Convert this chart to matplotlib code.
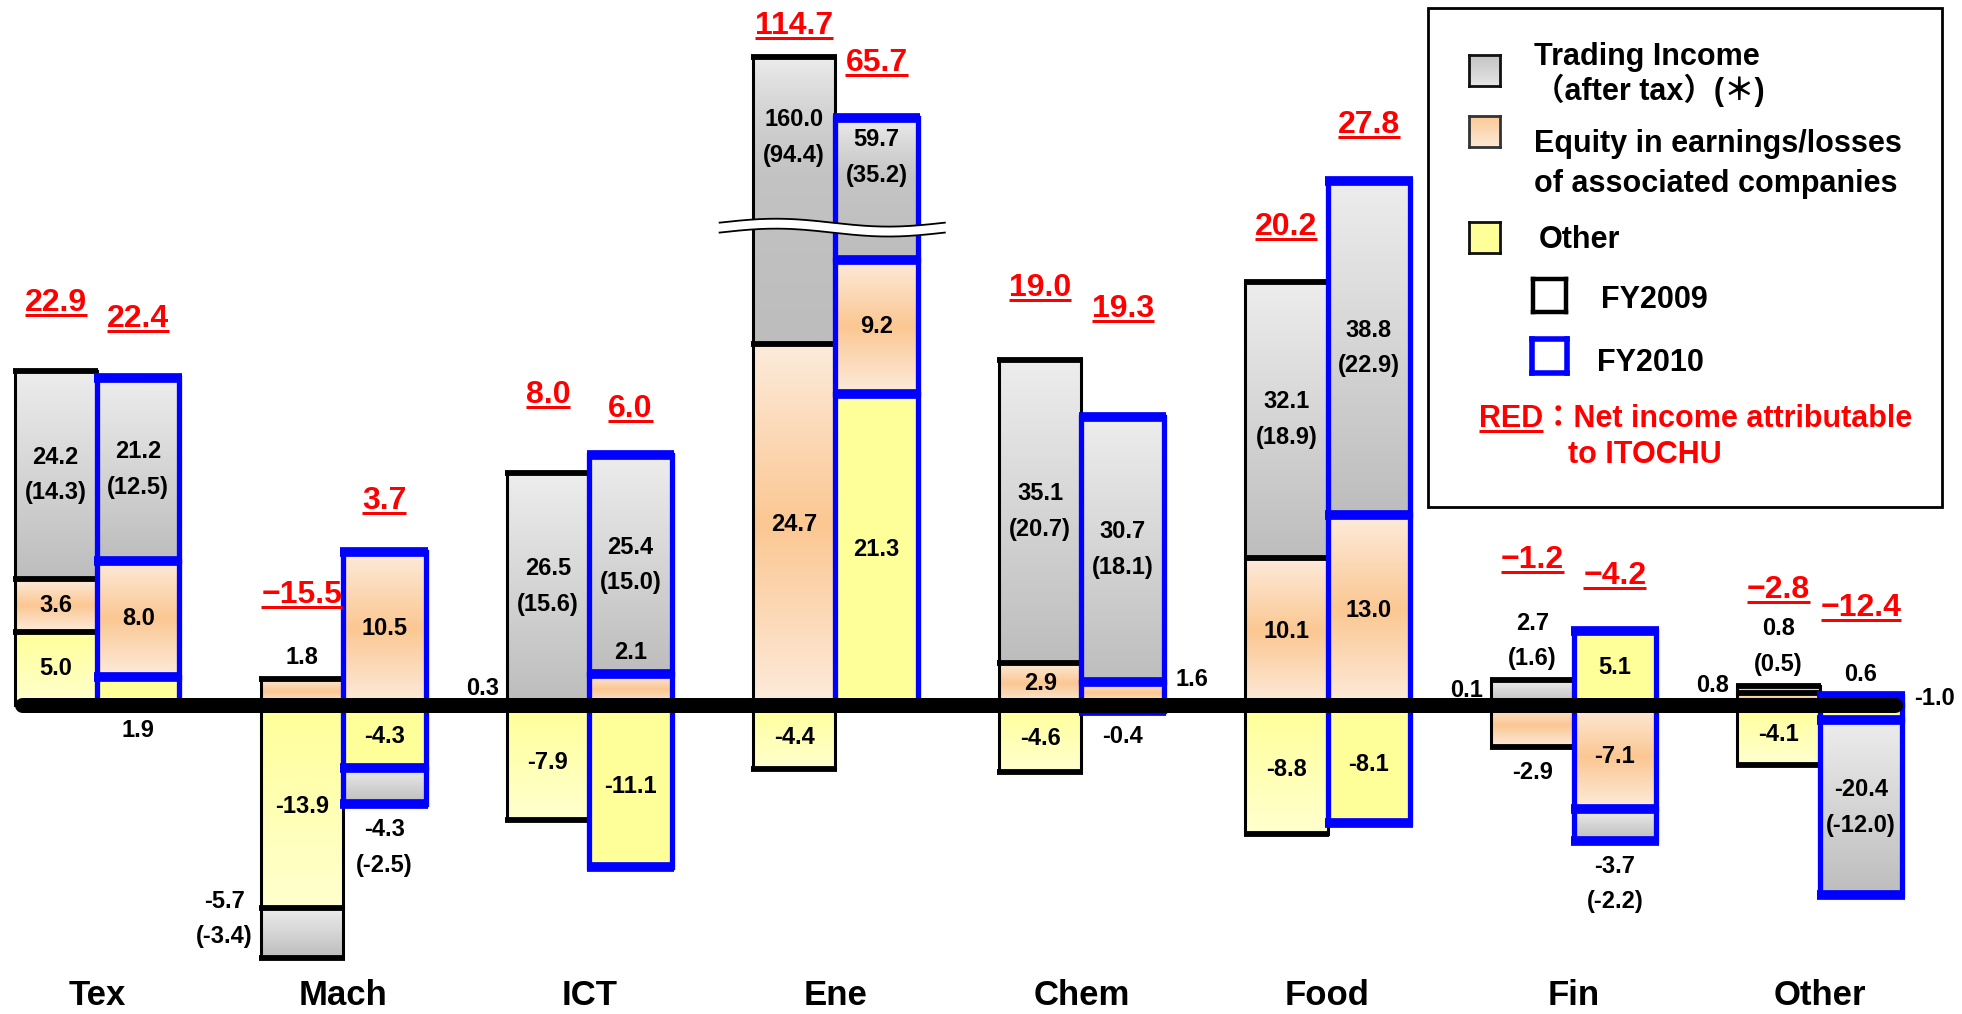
import numpy as np
import matplotlib
matplotlib.use('Agg')
import matplotlib.pyplot as plt
from matplotlib.colors import LinearSegmentedColormap
from matplotlib.lines import Line2D
from matplotlib.patches import Rectangle
from matplotlib.transforms import blended_transform_factory

# segment net income by division, FY2009 vs FY2010 (billion yen)
categories = ['Tex', 'Mach', 'ICT', 'Ene', 'Chem', 'Food', 'Fin', 'Other']

other_09 = [5.0, -13.9, -7.9, -4.4, -4.6, -8.8, 0.1, -4.1]
equity_09 = [3.6, 1.8, 0.3, 24.7, 2.9, 10.1, -2.9, 0.8]
trading_09 = [24.2, -5.7, 26.5, 160.0, 35.1, 32.1, 2.7, 0.8]
trading_at_09 = [14.3, -3.4, 15.6, 94.4, 20.7, 18.9, 1.6, 0.5]
net_09 = [22.9, -15.5, 8.0, 114.7, 19.0, 20.2, -1.2, -2.8]

other_10 = [1.9, -4.3, -11.1, 21.3, -0.4, -8.1, 5.1, -1.0]
equity_10 = [8.0, 10.5, 2.1, 9.2, 1.6, 13.0, -7.1, 0.6]
trading_10 = [21.2, -4.3, 25.4, 59.7, 30.7, 38.8, -3.7, -20.4]
trading_at_10 = [12.5, -2.5, 15.0, 35.2, 18.1, 22.9, -2.2, -12.0]
net_10 = [22.4, 3.7, 6.0, 65.7, 19.3, 27.8, -4.2, -12.4]

# where each value label sits: c centre, t upper part, a above, b below, l left, r right
place_09 = [['c', 'c', 'c', 'c', 'c', 'c', 'l', 'c'],
            ['c', 'a', 'l', 'c', 'c', 'c', 'b', 'l'],
            ['c', 'l', 'c', 't', 'c', 'c', 'a', 'a']]
place_10 = [['b', 'c', 'c', 'c', 'b', 'c', 'c', 'r'],
            ['c', 'c', 'a', 'c', 'r', 'c', 'c', 'a'],
            ['c', 'b', 'c', 't', 'c', 'c', 'b', 'c']]
# lift of the red net-income labels above each bar, in pixels
net_gap_09 = [60, 76, 70, 23, 64, 47, 112, 88]
net_gap_10 = [51, 43, 38, 47, 100, 48, 47, 80]

W, H = 1962, 1014
PT = 0.72            # points per pixel at 100 dpi
BAR_W = 0.335
BREAK = 36.0         # above this the axis is squeezed (broken bars)
SQUEEZE = 7.0
WAVE_AT = 32.7

NUM_FONT = ['Liberation Sans Narrow', 'Liberation Sans', 'DejaVu Sans']
SANS = ['Liberation Sans', 'DejaVu Sans']
LEG_FONT = ['Liberation Sans', 'Noto Sans CJK JP']


def forward(v):
    v = np.asarray(v, dtype=float)
    return np.where(v <= BREAK, v, BREAK + SQUEEZE * np.log(np.maximum(v, BREAK) / BREAK))


def inverse(t):
    t = np.asarray(t, dtype=float)
    over = np.minimum(np.maximum(t, BREAK) - BREAK, 300.0)
    return np.where(t <= BREAK, t, BREAK * np.exp(over / SQUEEZE))


gray_cm = LinearSegmentedColormap.from_list('gray_g', ['#BDBDBD', '#EDEDED'])
orange_cm = LinearSegmentedColormap.from_list('orange_g', ['#FDEBDB', '#FBC792', '#FDEBDB'])
yellow09_cm = LinearSegmentedColormap.from_list('yel09', ['#FFFFCE', '#FFFF99'])
yellow10_cm = LinearSegmentedColormap.from_list('yel10', ['#FFFF99', '#FFFF99'])

fig = plt.figure(figsize=(W / 100, H / 100), dpi=100)
ax = fig.add_axes([0, 0, 1, 1])
ax.set_yscale('function', functions=(forward, inverse))
xs = np.arange(len(categories))
XLIM = (-0.394, 7.578)
YLIM = (-21.16, float(inverse(48.29)))
ax.set_xlim(*XLIM)
ax.set_ylim(*YLIM)
ax.axis('off')

ramp = np.linspace(0, 1, 128).reshape(-1, 1)


def seg_label(text, xc, xl, xr, lo, hi, place):
    kw = dict(fontsize=17, weight='bold', family=NUM_FONT, fontstretch='condensed',
              linespacing=1.7, multialignment='center', zorder=8, annotation_clip=False)
    f_lo, f_hi = float(forward(lo)), float(forward(hi))
    mid = float(inverse((f_lo + f_hi) / 2))
    if place == 'c':
        ax.annotate(text, (xc, mid), ha='center', va='center', **kw)
    elif place == 't':
        y = float(inverse(f_hi - 0.28 * (f_hi - f_lo)))
        ax.annotate(text, (xc, y), ha='center', va='center', **kw)
    elif place == 'a':
        ax.annotate(text, (xc, hi), xytext=(0, 10 * PT), textcoords='offset points',
                    ha='center', va='bottom', **kw)
    elif place == 'b':
        ax.annotate(text, (xc, lo), xytext=(0, -14 * PT), textcoords='offset points',
                    ha='center', va='top', **kw)
    elif place == 'l':
        ax.annotate(text, (xl, mid), xytext=(-8 * PT, 14 * PT), textcoords='offset points',
                    ha='right', va='center', **kw)
    elif place == 'r':
        ax.annotate(text, (xr, mid), xytext=(12 * PT, 14 * PT), textcoords='offset points',
                    ha='left', va='center', **kw)


fy_specs = [
    (xs - BAR_W / 2, [other_09, equity_09, trading_at_09], trading_09, place_09,
     'black', 2.2, 4.2, 1, [yellow09_cm, orange_cm, gray_cm]),
    (xs + BAR_W / 2, [other_10, equity_10, trading_at_10], trading_10, place_10,
     '#0000FF', 3.8, 7.0, 3, [yellow10_cm, orange_cm, gray_cm]),
]

for centers, parts, pre_tax, places, edge, lw_side, lw_div, z, cmaps in fy_specs:
    ext = lw_side / PT / 2 / 246.1
    for i in range(len(categories)):
        xc = centers[i]
        xl, xr = xc - BAR_W / 2, xc + BAR_W / 2
        up = down = 0.0
        for k, vals in enumerate(parts):
            v = vals[i]
            if v >= 0:
                y0, y1 = up, up + v
                up += v
            else:
                y0, y1 = down, down + v
                down += v
            lo, hi = min(y0, y1), max(y0, y1)
            ax.imshow(ramp, cmap=cmaps[k], extent=(xl, xr, lo, hi), origin='lower',
                      aspect='auto', interpolation='bilinear', zorder=z)
            ax.bar(xc, y1 - y0, bottom=y0, width=BAR_W, facecolor='none',
                   edgecolor=edge, linewidth=lw_side, zorder=z + 0.5)
            ax.hlines(y1, xl - ext, xr + ext, colors=edge, linewidth=lw_div, zorder=z + 0.6)
            if k == 2:
                text = f'{pre_tax[i]:.1f}\n({v:.1f})'
            else:
                text = f'{v:.1f}'
            seg_label(text, xc, xl, xr, lo, hi, places[k][i])

# zero line
ax.plot([xs[0] - BAR_W + 0.03, xs[-1] + BAR_W - 0.03], [0, 0], color='black',
        lw=15 * PT, solid_capstyle='round', zorder=5)

# break mark across the energy bars
wx = np.linspace(xs[3] - 0.47, xs[3] + 0.445, 200)
phase = (wx - wx[0]) / (wx[-1] - wx[0])
wy = WAVE_AT + 0.27 * np.sin(2 * np.pi * phase)
ax.fill_between(wx, wy - 0.34, wy + 0.34, color='white', lw=0, zorder=6)
ax.plot(wx, wy - 0.34, color='black', lw=1.3, zorder=6.1)
ax.plot(wx, wy + 0.34, color='black', lw=1.3, zorder=6.1)

# red net-income labels
red_texts = []
for centers, nets, parts, gaps in [(xs - BAR_W / 2, net_09, [other_09, equity_09, trading_at_09], net_gap_09),
                                   (xs + BAR_W / 2, net_10, [other_10, equity_10, trading_at_10], net_gap_10)]:
    for i in range(len(categories)):
        top = sum(max(p[i], 0.0) for p in parts)
        label = f'{nets[i]:.1f}'.replace('-', '\u2212')
        t = ax.annotate(label, (centers[i], top), xytext=(0, gaps[i] * PT),
                        textcoords='offset points', ha='center', va='baseline',
                        fontsize=23, weight='bold', color='#FF0000', family=SANS,
                        zorder=8, annotation_clip=False)
        red_texts.append(t)

# division names along the bottom
xform = blended_transform_factory(ax.transData, ax.transAxes)
for i, name in enumerate(categories):
    ax.text(xs[i], 2 / H, name, transform=xform, ha='center', va='bottom',
            fontsize=25, weight='bold', family=SANS)


# legend panel, positioned in figure pixels
def fpos(x, y):
    return x / W, 1 - y / H


fig.add_artist(Rectangle(fpos(1428, 507), (1942 - 1428) / W, (507 - 8) / H,
                         transform=fig.transFigure, fill=False, ec='black', lw=2))


def swatch(x0, y0, x1, y1, colors, edge, lw):
    sax = fig.add_axes([x0 / W, 1 - y1 / H, (x1 - x0) / W, (y1 - y0) / H])
    cm = LinearSegmentedColormap.from_list('sw', colors)
    sax.imshow(ramp, cmap=cm, extent=(0, 1, 0, 1), origin='lower', aspect='auto')
    sax.set_xticks([])
    sax.set_yticks([])
    for s in sax.spines.values():
        s.set_color(edge)
        s.set_linewidth(lw)


swatch(1469, 55, 1500, 86, ['#E6E6E6', '#C4C4C4'], '#111111', 2)
swatch(1469, 116, 1500, 147, ['#FDE9D6', '#FBC894'], '#333333', 2)
swatch(1469, 222, 1500, 253, ['#FFFF99', '#FFFF99'], '#111111', 2)
swatch(1533, 279, 1566, 312, ['white', 'white'], 'black', 3.2)
swatch(1532, 339, 1567, 373, ['white', 'white'], '#0000FF', 4)

leg_kw = dict(fontsize=22, weight='bold', family=LEG_FONT, va='baseline', ha='left')
fig.text(*fpos(1534, 65), 'Trading Income', **leg_kw)
fig.text(*fpos(1534, 100), '（after tax）(＊)', **leg_kw)
fig.text(*fpos(1534, 152), 'Equity in earnings/losses', **leg_kw)
fig.text(*fpos(1534, 192), 'of associated companies', **leg_kw)
fig.text(*fpos(1539, 248), 'Other', **leg_kw)
fig.text(*fpos(1601, 308), 'FY2009', **leg_kw)
fig.text(*fpos(1597, 371), 'FY2010', **leg_kw)
red_word = fig.text(*fpos(1479, 427), 'RED', color='#FF0000', **leg_kw)
fig.text(*fpos(1568, 463), 'to ITOCHU', color='#FF0000', **leg_kw)

# underlines need measured text widths
fig.canvas.draw()
renderer = fig.canvas.get_renderer()
inv = fig.transFigure.inverted()


def underline(x0, x1, y):
    (fx0, fy), (fx1, _) = inv.transform([(x0, y), (x1, y)])
    fig.add_artist(Line2D([fx0, fx1], [fy, fy], transform=fig.transFigure,
                          color='#FF0000', lw=3 * PT, solid_capstyle='butt'))


for t in red_texts:
    bb = t.get_window_extent(renderer)
    base = ax.transData.transform(t.xy)[1] + t.xyann[1] / PT
    underline(bb.x0, bb.x1, base - 4)

bb = red_word.get_window_extent(renderer)
underline(bb.x0, bb.x1, H - 427 - 4)
fig.text(bb.x1 / W, 1 - 427 / H, '：Net income attributable', color='#FF0000', **leg_kw)

ax.set_xlim(*XLIM)
ax.set_ylim(*YLIM)
fig.savefig('out.png', dpi=100)
